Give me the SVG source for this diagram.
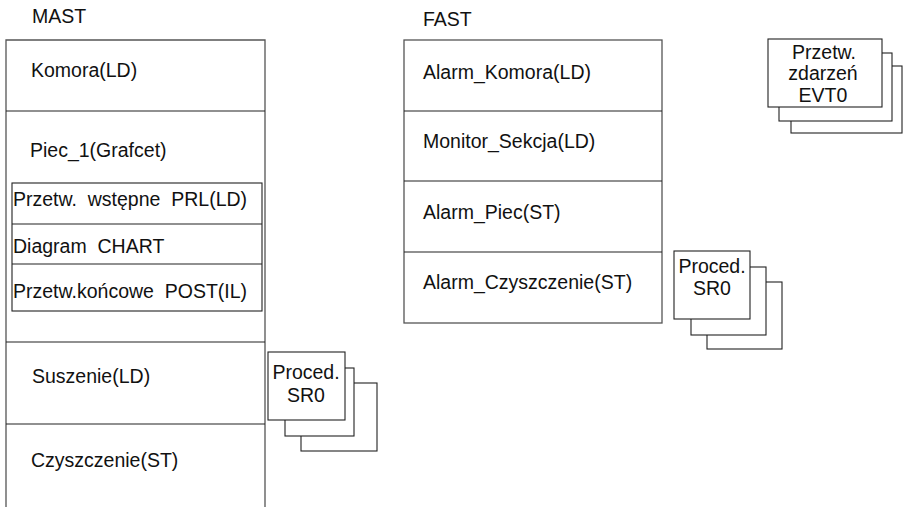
<svg xmlns="http://www.w3.org/2000/svg" width="907" height="507" viewBox="0 0 907 507">
<style>
  text { font-family: "Liberation Sans", Arial, sans-serif; font-size: 19.5px; fill: #111; }
  .c { text-anchor: middle; }
  .frame { fill: none; stroke: #555; stroke-width: 1.3; }
  .ln { fill: none; stroke: #222; stroke-width: 1.1; }
  .box { fill: #fff; stroke: #222; stroke-width: 1.1; }
</style>
<rect width="907" height="507" fill="#fff"/>

<g id="mast">
  <text x="32" y="23">MAST</text>
  <path class="frame" d="M6,507 V40 H265 V507"/>
  <line class="ln" x1="6" y1="111" x2="265" y2="111"/>
  <line class="ln" x1="6" y1="342" x2="265" y2="342"/>
  <line class="ln" x1="6" y1="424" x2="265" y2="424"/>
  <text x="31" y="77">Komora(LD)</text>
  <text x="30" y="157">Piec_1(Grafcet)</text>
  <text x="32" y="383">Suszenie(LD)</text>
  <text x="31" y="467">Czyszczenie(ST)</text>
</g>

<g id="piec">
  <rect class="ln" x="12" y="183" width="250" height="128"/>
  <line class="ln" x1="12" y1="224" x2="262" y2="224"/>
  <line class="ln" x1="12" y1="264" x2="262" y2="264"/>
  <text x="13" y="206" xml:space="preserve">Przetw.  wstępne  PRL(LD)</text>
  <text x="13" y="253" xml:space="preserve">Diagram  CHART</text>
  <text x="13" y="298" xml:space="preserve">Przetw.końcowe  POST(IL)</text>
</g>

<g id="mast-sr0">
  <rect class="box" x="301" y="383" width="76" height="68"/>
  <rect class="box" x="285" y="368" width="69" height="68"/>
  <rect class="box" x="268" y="352" width="77" height="68"/>
  <text class="c" x="306" y="379">Proced.</text>
  <text class="c" x="306" y="402">SR0</text>
</g>

<g id="fast">
  <text x="423" y="26">FAST</text>
  <rect class="frame" x="404" y="40" width="258" height="283"/>
  <line class="ln" x1="404" y1="111" x2="662" y2="111"/>
  <line class="ln" x1="404" y1="181" x2="662" y2="181"/>
  <line class="ln" x1="404" y1="252" x2="662" y2="252"/>
  <text x="423" y="79">Alarm_Komora(LD)</text>
  <text x="423" y="148">Monitor_Sekcja(LD)</text>
  <text x="423" y="219">Alarm_Piec(ST)</text>
  <text x="423" y="289">Alarm_Czyszczenie(ST)</text>
</g>

<g id="fast-sr0">
  <rect class="box" x="707" y="282" width="75" height="67"/>
  <rect class="box" x="691" y="267" width="75" height="68"/>
  <rect class="box" x="674" y="251" width="76" height="68"/>
  <text class="c" x="712" y="273">Proced.</text>
  <text class="c" x="712" y="295">SR0</text>
</g>

<g id="evt0">
  <rect class="box" x="791" y="66" width="111" height="67"/>
  <rect class="box" x="779" y="53" width="113" height="68"/>
  <rect class="box" x="768" y="39" width="114" height="68"/>
  <text class="c" x="824" y="59">Przetw.</text>
  <text class="c" x="823" y="80">zdarzeń</text>
  <text class="c" x="823" y="102">EVT0</text>
</g>

<g id="connectors"></g>
</svg>
